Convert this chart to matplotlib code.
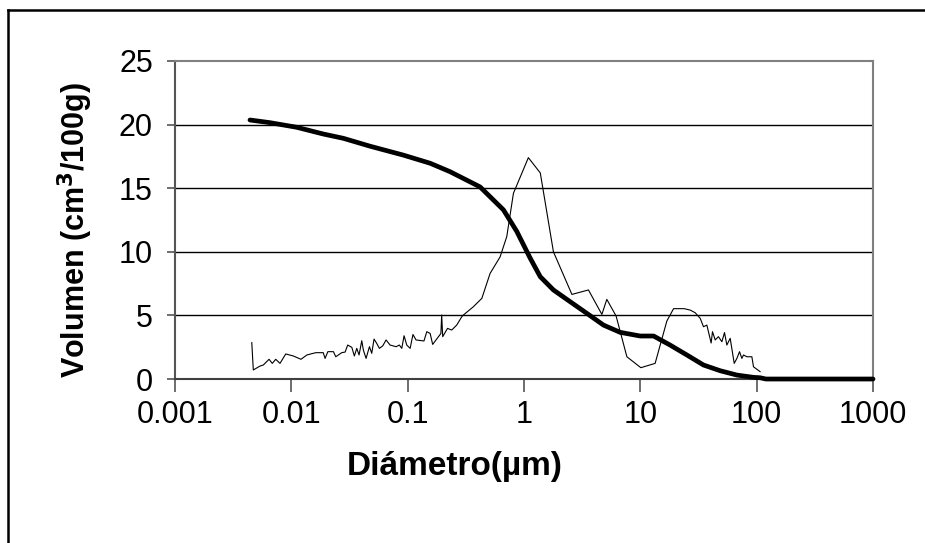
import matplotlib
matplotlib.use("Agg")
import matplotlib.pyplot as plt
from matplotlib.lines import Line2D
from matplotlib.ticker import FixedLocator, NullLocator

plt.rcParams["font.family"] = ["Liberation Sans", "DejaVu Sans"]

# volumen acumulado (curva gruesa)
diam_acum = [0.00441, 0.00656, 0.0111, 0.0188, 0.0280, 0.0475, 0.0918, 0.156,
             0.231, 0.419, 0.665, 0.867, 1.13, 1.38, 1.79, 2.49, 3.47, 4.82,
             6.70, 9.96, 13.0, 18.0, 25.1, 34.9, 48.6, 67.6, 93.9, 107,
             120, 200, 500, 1000]
vol_acum = [20.36, 20.15, 19.79, 19.26, 18.92, 18.3, 17.6, 16.96,
            16.3, 15.1, 13.3, 11.6, 9.5, 8.04, 7.0, 6.08, 5.16, 4.24,
            3.67, 3.38, 3.38, 2.67, 1.89, 1.1, 0.65, 0.31, 0.13, 0.1,
            0.0, 0.0, 0.0, 0.0]

# distribucion diferencial (curva fina)
diam_dif = [0.00457, 0.00471, 0.00538, 0.00574, 0.00643, 0.00686, 0.00734,
            0.00799, 0.00895, 0.0104, 0.0121, 0.0136, 0.0162, 0.0188, 0.0195,
            0.0206, 0.0230, 0.0241, 0.0271, 0.0290, 0.0305, 0.0331, 0.0348,
            0.0365, 0.0382, 0.0403, 0.0416, 0.0439, 0.0469, 0.0491, 0.0514,
            0.0542, 0.0571, 0.0611, 0.0652, 0.0706, 0.0795, 0.0848, 0.0890,
            0.0931, 0.0982, 0.105, 0.111, 0.118, 0.138, 0.146, 0.156, 0.164,
            0.184, 0.193, 0.196, 0.200, 0.220, 0.239, 0.264, 0.292, 0.301,
            0.367, 0.434, 0.511, 0.623, 0.711, 0.811, 1.09, 1.38, 1.79, 2.58,
            3.58, 4.67, 5.15, 6.19, 7.66, 10.1, 13.4, 16.9, 19.3, 23.8, 26.8,
            29.6, 32.7, 34.9, 37.3, 40.6, 41.7, 44.0, 46.9, 50.2, 52.9, 55.4,
            59.2, 64.1, 67.6, 71.2, 74.6, 77.0, 82.4, 90.9, 93.9, 107]
vol_dif = [2.86, 0.71, 1.02, 1.1, 1.55, 1.23, 1.55,
           1.23, 1.97, 1.81, 1.55, 1.89, 2.07, 2.07, 1.62,
           2.15, 2.15, 1.75, 2.07, 2.12, 2.67, 2.49, 1.81,
           2.41, 1.89, 3.01, 2.28, 1.62, 2.54, 2.02, 3.14,
           2.8, 2.41, 2.61, 3.07, 2.67, 2.54, 2.67, 2.41,
           3.4, 2.67, 2.41, 3.5, 3.07, 2.99, 3.72, 3.58, 2.72,
           3.33, 3.58, 5.03, 3.33, 3.98, 3.85, 4.24, 4.9, 5.03,
           5.68, 6.34, 8.3, 9.6, 11.2, 14.6, 17.4, 16.2, 10.0, 6.65,
           7.0, 5.08, 6.26, 4.95, 1.75, 0.89, 1.23, 4.56, 5.53, 5.53, 5.42,
           5.21, 4.77, 4.11, 4.24, 2.83, 3.72, 3.07, 3.33, 2.93, 3.65, 2.67,
           3.2, 1.23, 1.62, 2.15, 1.62, 1.89, 1.75, 1.75, 0.96, 0.58]

x_ticks = [0.001, 0.01, 0.1, 1, 10, 100, 1000]
x_labels = ["0.001", "0.01", "0.1", "1", "10", "100", "1000"]
y_ticks = [0, 5, 10, 15, 20, 25]

fig = plt.figure(figsize=(9.25, 5.43), dpi=100)
ax = fig.add_axes([0.1892, 0.302, 0.9438 - 0.1892, 0.8877 - 0.302])

ax.plot(diam_dif, vol_dif, color="black", lw=0.8, zorder=3)
ax.plot(diam_acum, vol_acum, color="black", lw=3.4, solid_capstyle="round",
        zorder=4, clip_on=False)

ax.set_xscale("log")
ax.set_xlim(0.001, 1000)
ax.set_ylim(0, 25)
ax.xaxis.set_major_locator(FixedLocator(x_ticks))
ax.xaxis.set_minor_locator(NullLocator())
ax.set_xticklabels(x_labels)
ax.set_yticks(y_ticks)

# lineas de division horizontales
for v in y_ticks[1:-1]:
    ax.axhline(v, color="black", lw=1.0, zorder=1)

for lado in ["top", "right"]:
    ax.spines[lado].set_color("#808080")
    ax.spines[lado].set_linewidth(1.5)
ax.spines["left"].set_color("#555555")
ax.spines["left"].set_linewidth(1.5)
ax.spines["bottom"].set_color("#404040")
ax.spines["bottom"].set_linewidth(1.5)

ax.tick_params(axis="x", direction="out", length=9, width=1.2, color="#555555",
               labelsize=22, pad=6)
ax.tick_params(axis="y", direction="out", length=6, width=1.2, color="#555555",
               labelsize=22, pad=10)

ax.set_xlabel("Diámetro(µm)", fontsize=24, fontweight="bold")
ax.xaxis.set_label_coords(0.401, -0.225)
ax.set_ylabel("Volumen (cm$^\\mathbf{3}$/100g)", fontsize=22, fontweight="bold")
ax.yaxis.set_label_coords(-0.115, 0.47)

# marco exterior
fig.add_artist(Line2D([8 / 925, 8 / 925], [0, 1 - 10 / 543], color="black",
                      lw=1.8, transform=fig.transFigure))
fig.add_artist(Line2D([8 / 925, 1], [1 - 10 / 543, 1 - 10 / 543], color="black",
                      lw=1.8, transform=fig.transFigure))

fig.savefig("out.png", dpi=100)
